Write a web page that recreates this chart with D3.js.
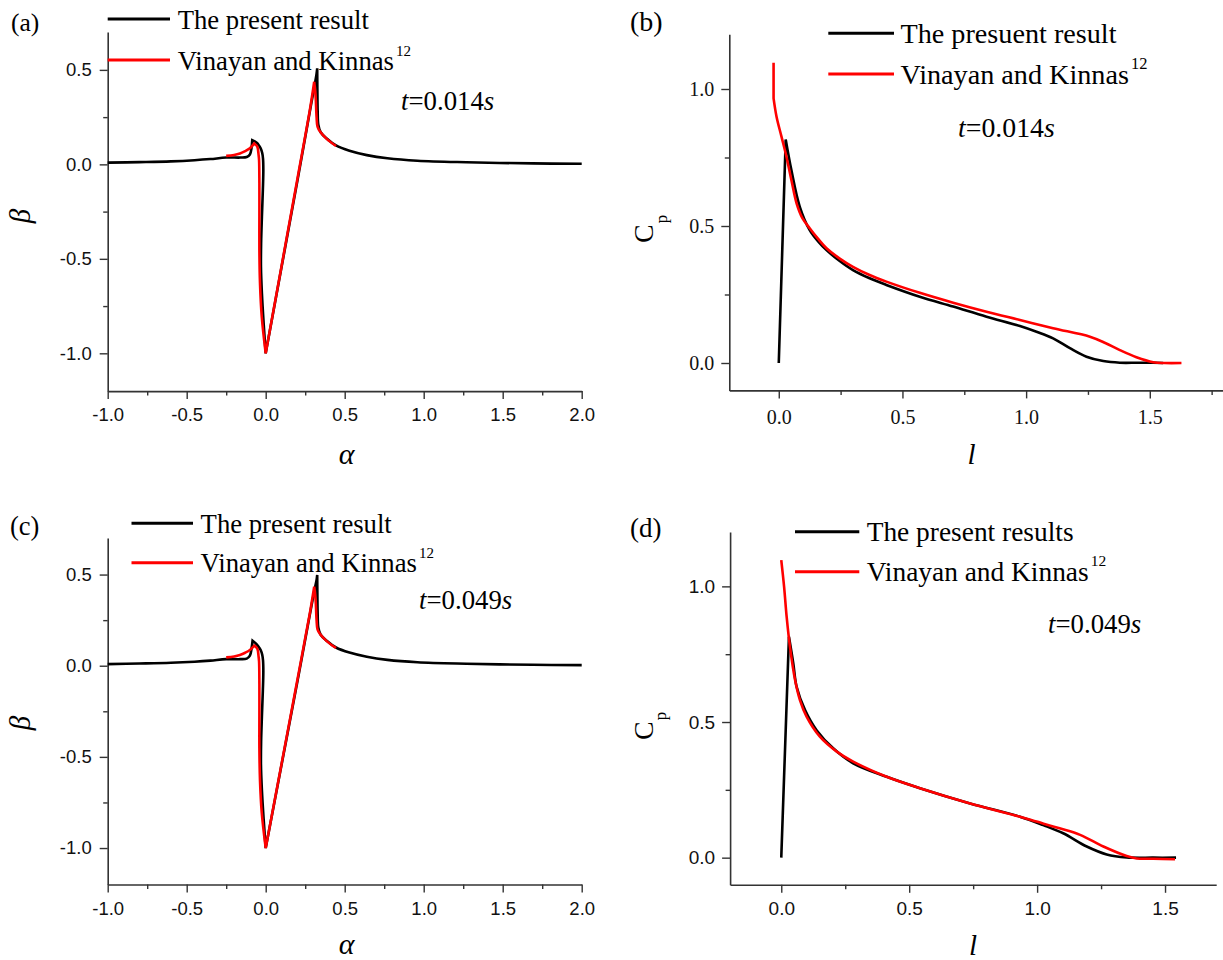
<!DOCTYPE html>
<html><head><meta charset="utf-8">
<script src="https://cdn.jsdelivr.net/npm/d3@7"></script>
<style>
body{margin:0;background:#fff;}
svg{display:block;}
</style></head><body>
<svg id="chart" width="1223" height="960"></svg>
<script>
// ---------- tick values ----------
const alphaTicks = [-1.0, -0.5, 0.0, 0.5, 1.0, 1.5, 2.0];
const alphaMinor = [-0.75, -0.25, 0.25, 0.75, 1.25, 1.75];
const betaTicks = [-1.0, -0.5, 0.0, 0.5];
const betaMinor = [-0.75, -0.25, 0.25];
const lTicks = [0.0, 0.5, 1.0, 1.5];
const lMinorB = [0.25, 0.75, 1.25, 1.75];
const lMinorD = [0.25, 0.75, 1.25];
const cpTicks = [0.0, 0.5, 1.0];
const cpMinor = [0.25, 0.75];

// ---------- panel (a): t = 0.014 s ----------
const aPresentAlpha = [-1.0,-0.8,-0.6,-0.45,-0.35,-0.25,-0.16,-0.12,-0.10,-0.09,-0.085,-0.07,-0.057,-0.045,-0.032,-0.022,-0.017,-0.015,-0.018,-0.024,-0.029,-0.030,-0.024,-0.013,0.0,0.10,0.20,0.29,0.31,0.322,0.326,0.327,0.329,0.333,0.348,0.386,0.445,0.53,0.64,0.77,0.96,1.27,1.69,2.0];
const aPresentBeta  = [0.009,0.012,0.016,0.022,0.028,0.036,0.036,0.039,0.052,0.085,0.128,0.122,0.114,0.103,0.085,0.060,0.030,-0.030,-0.136,-0.277,-0.418,-0.542,-0.683,-0.841,-1.0,-0.545,-0.09,0.33,0.42,0.48,0.508,0.40,0.28,0.21,0.17,0.137,0.100,0.072,0.049,0.032,0.019,0.011,0.005,0.003];
const aRefAlpha = [-0.25,-0.2,-0.163,-0.13,-0.10,-0.072,-0.053,-0.045,-0.042,-0.040,-0.040,-0.040,-0.036,-0.025,0.0,0.10,0.20,0.28,0.307,0.316,0.322,0.328,0.345,0.386,0.445];
const aRefBeta  = [0.045,0.050,0.058,0.070,0.085,0.111,0.093,0.050,0.023,-0.10,-0.277,-0.453,-0.63,-0.806,-1.0,-0.54,-0.08,0.29,0.437,0.36,0.25,0.20,0.172,0.135,0.097];

// ---------- panel (c): t = 0.049 s ----------
const cPresentAlpha = [-1.0,-0.8,-0.6,-0.45,-0.35,-0.25,-0.16,-0.12,-0.10,-0.09,-0.083,-0.07,-0.057,-0.045,-0.032,-0.022,-0.017,-0.015,-0.018,-0.024,-0.029,-0.030,-0.024,-0.013,0.0,0.10,0.20,0.29,0.31,0.322,0.326,0.327,0.329,0.333,0.348,0.386,0.445,0.53,0.64,0.77,0.96,1.27,1.69,2.0];
const cPresentBeta  = [0.009,0.012,0.016,0.022,0.028,0.036,0.036,0.039,0.055,0.092,0.137,0.128,0.117,0.104,0.086,0.060,0.030,-0.030,-0.136,-0.277,-0.418,-0.542,-0.683,-0.841,-1.0,-0.545,-0.09,0.33,0.42,0.47,0.498,0.40,0.28,0.21,0.17,0.137,0.100,0.072,0.049,0.032,0.019,0.011,0.005,0.003];
const cRefAlpha = [-0.25,-0.2,-0.163,-0.13,-0.10,-0.072,-0.053,-0.045,-0.042,-0.040,-0.040,-0.040,-0.036,-0.025,0.0,0.10,0.20,0.28,0.307,0.316,0.322,0.328,0.345,0.386,0.445];
const cRefBeta  = [0.046,0.051,0.059,0.071,0.086,0.110,0.093,0.050,0.023,-0.10,-0.277,-0.453,-0.63,-0.806,-1.0,-0.54,-0.08,0.29,0.433,0.36,0.25,0.20,0.172,0.135,0.097];

// ---------- panel (b): t = 0.014 s ----------
const bPresentL  = [0.0,0.028,0.051,0.085,0.125,0.16,0.193,0.245,0.30,0.365,0.435,0.57,0.705,0.84,0.975,1.042,1.109,1.177,1.244,1.312,1.379,1.45,1.514,1.554];
const bPresentCp = [0.0,0.816,0.704,0.570,0.485,0.443,0.412,0.373,0.339,0.310,0.285,0.242,0.206,0.169,0.135,0.114,0.090,0.054,0.023,0.007,0.001,0.001,0.001,0.0];
const bRefL  = [-0.021,-0.021,-0.009,0.011,0.031,0.051,0.072,0.095,0.125,0.16,0.193,0.245,0.30,0.365,0.435,0.57,0.705,0.84,0.975,1.109,1.258,1.32,1.379,1.446,1.514,1.56,1.628];
const bRefCp = [1.096,0.966,0.899,0.826,0.753,0.668,0.583,0.530,0.492,0.452,0.419,0.382,0.351,0.322,0.297,0.256,0.220,0.187,0.157,0.127,0.096,0.073,0.047,0.021,0.003,0.0,0.0];

// ---------- panel (d): t = 0.049 s ----------
const dPresentL  = [0.0,0.030,0.047,0.060,0.093,0.138,0.203,0.281,0.412,0.542,0.738,0.933,1.024,1.102,1.194,1.272,1.35,1.454,1.543];
const dPresentCp = [0.0,0.814,0.716,0.630,0.544,0.470,0.403,0.348,0.298,0.256,0.200,0.151,0.120,0.090,0.041,0.012,0.001,0.0,0.0];
const dRefL  = [0.0,0.011,0.021,0.034,0.054,0.073,0.099,0.151,0.217,0.281,0.412,0.542,0.738,0.933,0.998,1.088,1.168,1.259,1.35,1.389,1.454,1.539];
const dRefCp = [1.097,0.999,0.888,0.777,0.655,0.581,0.520,0.446,0.391,0.354,0.298,0.256,0.200,0.151,0.133,0.108,0.084,0.041,0.006,-0.003,-0.004,-0.006];

// ---------- texts ----------
const legendA = ["The present result", "Vinayan and Kinnas"];
const legendB = ["The presuent result", "Vinayan and Kinnas"];
const legendD = ["The present results", "Vinayan and Kinnas"];
const refSup = "12";

const svg = d3.select("#chart");
const SERIF = "'Liberation Serif','Times New Roman',Times,'DejaVu Serif',serif";
const SANS = "'Liberation Sans',Arial,sans-serif";
const AX = "#333";
const fmt = d => d.toFixed(1);
const zip = (xs, ys) => xs.map((x, i) => [x, ys[i]]);

// smooth path with sharp corners kept at the given point indices
function pathWithCorners(pts, corners, line) {
  const cuts = [0, ...corners, pts.length - 1];
  let d = "";
  for (let i = 0; i < cuts.length - 1; i++) {
    const seg = pts.slice(cuts[i], cuts[i + 1] + 1);
    let s = line(seg);
    if (i > 0) s = "L" + s.slice(1);
    d += s;
  }
  return d;
}

function panel(cfg) {
  const g = svg.append("g");
  const x = d3.scaleLinear().domain(cfg.xd).range(cfg.xr);
  const y = d3.scaleLinear().domain(cfg.yd).range(cfg.yr);
  const y0 = cfg.yr[0], x0 = cfg.xr[0];

  // minor ticks
  g.append("g").attr("transform", `translate(0,${y0})`)
    .call(d3.axisBottom(x).tickValues(cfg.xMinor).tickSize(4.5).tickFormat(""))
    .call(s => s.select(".domain").remove());
  g.append("g").attr("transform", `translate(${x0},0)`)
    .call(d3.axisLeft(y).tickValues(cfg.yMinor).tickSize(4.5).tickFormat(""))
    .call(s => s.select(".domain").remove());
  // major axes
  const xa = g.append("g").attr("transform", `translate(0,${y0})`)
    .call(d3.axisBottom(x).tickValues(cfg.xTicks).tickSize(8).tickSizeOuter(0).tickPadding(cfg.xPad).tickFormat(fmt));
  const ya = g.append("g").attr("transform", `translate(${x0},0)`)
    .call(d3.axisLeft(y).tickValues(cfg.yTicks).tickSize(8).tickSizeOuter(0).tickPadding(cfg.yPad).tickFormat(fmt));
  g.selectAll(".domain").attr("stroke", AX).attr("stroke-width", 1.6);
  g.selectAll(".tick line").attr("stroke", AX).attr("stroke-width", 1.4);
  [xa, ya].forEach(a => {
    a.attr("font-family", cfg.tickFont).attr("font-size", cfg.tickSize);
    a.selectAll("text").attr("font-family", cfg.tickFont).attr("font-size", cfg.tickSize).attr("fill", "#111");
  });

  // curves
  const line = d3.line().x(d => x(d[0])).y(d => y(d[1])).curve(d3.curveCatmullRom.alpha(0.5));
  g.append("path").attr("d", pathWithCorners(zip(cfg.blackX, cfg.blackY), cfg.blackCorners, line))
    .attr("fill", "none").attr("stroke", "#000").attr("stroke-width", 2.6).attr("stroke-linejoin", "miter");
  g.append("path").attr("d", pathWithCorners(zip(cfg.redX, cfg.redY), cfg.redCorners, line))
    .attr("fill", "none").attr("stroke", "#ff0000").attr("stroke-width", 2.6).attr("stroke-linejoin", "miter");

  // legend
  const L = cfg.legend;
  [["#000", L.y1], ["#ff0000", L.y2]].forEach(([c, yy]) => {
    g.append("line").attr("x1", L.x1).attr("x2", L.x2).attr("y1", yy).attr("y2", yy)
      .attr("stroke", c).attr("stroke-width", 3);
  });
  g.append("text").attr("x", L.tx).attr("y", L.y1 + L.dy).attr("font-family", SERIF)
    .attr("font-size", L.fs).text(cfg.legendText[0]);
  const t2 = g.append("text").attr("x", L.tx).attr("y", L.y2 + L.dy).attr("font-family", SERIF)
    .attr("font-size", L.fs);
  t2.append("tspan").text(cfg.legendText[1]);
  t2.append("tspan").attr("dy", -L.supUp).attr("dx", 2).attr("font-size", L.supFs).text(refSup);

  // time label
  const tt = g.append("text").attr("x", cfg.time.x).attr("y", cfg.time.y)
    .attr("font-family", SERIF).attr("font-size", cfg.time.fs);
  tt.append("tspan").attr("font-style", "italic").text("t");
  tt.append("tspan").text("=" + cfg.time.val);
  tt.append("tspan").attr("font-style", "italic").text("s");

  // panel letter
  g.append("text").attr("x", cfg.letter.x).attr("y", cfg.letter.y).attr("font-family", SERIF)
    .attr("font-size", cfg.letter.fs).text(cfg.letter.t);

  // axis titles
  g.append("text").attr("x", (cfg.xr[0] + cfg.xr[1]) / 2 + cfg.xTitle.dx).attr("y", cfg.xTitle.y)
    .attr("text-anchor", "middle").attr("font-family", SERIF).attr("font-style", "italic")
    .attr("font-size", cfg.xTitle.fs).text(cfg.xTitle.t);
  const yt = g.append("text").attr("transform", `translate(${cfg.yTitle.x},${cfg.yTitle.y}) rotate(-90)`)
    .attr("text-anchor", cfg.yTitle.anchor).attr("font-family", SERIF).attr("font-size", cfg.yTitle.fs);
  if (cfg.yTitle.sub) {
    yt.append("tspan").text(cfg.yTitle.t);
    yt.append("tspan").attr("dy", cfg.yTitle.subDy).attr("dx", 1).attr("font-size", cfg.yTitle.subFs).text(cfg.yTitle.sub);
  } else {
    yt.attr("font-style", "italic").text(cfg.yTitle.t);
  }
}

// (a)
panel({
  xd: [-1, 2], xr: [107.7, 581.7], yd: [-1.2, 0.7], yr: [391.1, 32.1],
  xTicks: alphaTicks, xMinor: alphaMinor, yTicks: betaTicks, yMinor: betaMinor,
  xPad: 9, yPad: 8, tickFont: SANS, tickSize: 18.5,
  blackX: aPresentAlpha, blackY: aPresentBeta, redX: aRefAlpha, redY: aRefBeta,
  blackCorners: [10, 24, 30], redCorners: [5, 14, 18],
  legend: {x1: 107.7, x2: 170, y1: 19, y2: 60, tx: 177.7, dy: 9.5, fs: 26.7, supUp: 14, supFs: 15},
  legendText: legendA,
  time: {x: 401, y: 110, fs: 26.8, val: "0.014"},
  letter: {x: 11, y: 31, fs: 25.5, t: "(a)"},
  xTitle: {t: "α", y: 464, fs: 30, dx: 2},
  yTitle: {t: "β", x: 30, y: 216, fs: 29, anchor: "middle"}
});
// (c)
panel({
  xd: [-1, 2], xr: [107.7, 581.7], yd: [-1.2, 0.7], yr: [884.5, 538.1],
  xTicks: alphaTicks, xMinor: alphaMinor, yTicks: betaTicks, yMinor: betaMinor,
  xPad: 9, yPad: 8, tickFont: SANS, tickSize: 18.5,
  blackX: cPresentAlpha, blackY: cPresentBeta, redX: cRefAlpha, redY: cRefBeta,
  blackCorners: [10, 24, 30], redCorners: [5, 14, 18],
  legend: {x1: 131.5, x2: 193, y1: 523.3, y2: 562.7, tx: 200.6, dy: 9.5, fs: 26.7, supUp: 14, supFs: 15},
  legendText: legendA,
  time: {x: 419, y: 609, fs: 26.8, val: "0.049"},
  letter: {x: 10, y: 535, fs: 26.5, t: "(c)"},
  xTitle: {t: "α", y: 954, fs: 30, dx: 2},
  yTitle: {t: "β", x: 30, y: 723, fs: 29, anchor: "middle"}
});
// (b)
panel({
  xd: [-0.2, 1.8], xr: [729.3, 1224], yd: [-0.1, 1.2], yr: [390.4, 34.2],
  xTicks: lTicks, xMinor: lMinorB, yTicks: cpTicks, yMinor: cpMinor,
  xPad: 11, yPad: 7, tickFont: SERIF, tickSize: 20,
  blackX: bPresentL, blackY: bPresentCp, redX: bRefL, redY: bRefCp,
  blackCorners: [1], redCorners: [1],
  legend: {x1: 828.3, x2: 894, y1: 33.3, y2: 74, tx: 900.5, dy: 9.8, fs: 28.2, supUp: 15, supFs: 16.5},
  legendText: legendB,
  time: {x: 958, y: 136.7, fs: 27.8, val: "0.014"},
  letter: {x: 630, y: 31, fs: 28, t: "(b)"},
  xTitle: {t: "l", y: 464, fs: 29, dx: -5},
  yTitle: {t: "C", sub: "p", x: 653, y: 243, fs: 28, anchor: "start", subDy: 14, subFs: 17}
});
// (d)
panel({
  xd: [-0.2, 1.7], xr: [730.1, 1216.2], yd: [-0.1, 1.2], yr: [884.8, 532.1],
  xTicks: lTicks, xMinor: lMinorD, yTicks: cpTicks, yMinor: cpMinor,
  xPad: 8.5, yPad: 7, tickFont: SANS, tickSize: 19,
  blackX: dPresentL, blackY: dPresentCp, redX: dRefL, redY: dRefCp,
  blackCorners: [1], redCorners: [],
  legend: {x1: 795, x2: 859.3, y1: 531.7, y2: 571.7, tx: 866.7, dy: 9.5, fs: 27.4, supUp: 15, supFs: 15.5},
  legendText: legendD,
  time: {x: 1048, y: 632.7, fs: 26.8, val: "0.049"},
  letter: {x: 630, y: 536.5, fs: 27, t: "(d)"},
  xTitle: {t: "l", y: 955, fs: 29, dx: 0},
  yTitle: {t: "C", sub: "p", x: 653, y: 740, fs: 28, anchor: "start", subDy: 13, subFs: 17}
});
</script>
</body></html>
